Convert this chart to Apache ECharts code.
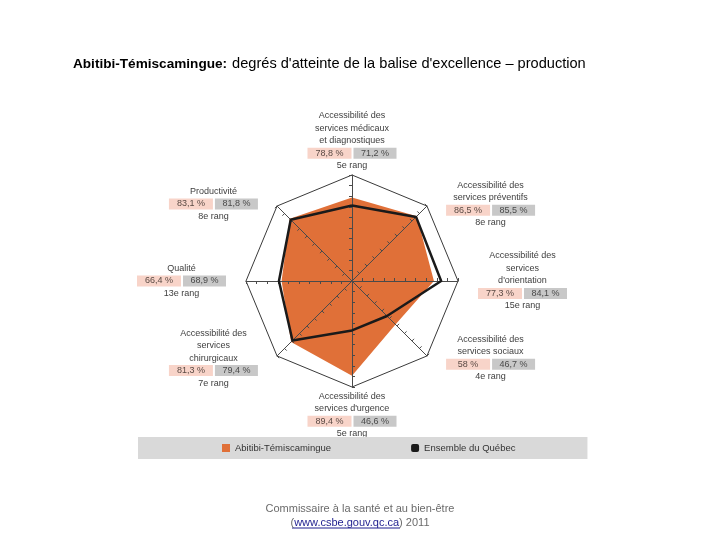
<!DOCTYPE html>
<html>
<head>
<meta charset="utf-8">
<script src="https://cdn.jsdelivr.net/npm/echarts@6/dist/echarts.min.js"></script>
<style>
html,body{margin:0;padding:0;background:#fff;}
#chart{width:720px;height:540px;}
</style>
</head>
<body>
<div id="chart"></div>
<script>
// Indicators, counter-clockwise from the top (ECharts radar order)
const categories = [
  "Accessibilité des\nservices médicaux\net diagnostiques",
  "Productivité",
  "Qualité",
  "Accessibilité des\nservices\nchirurgicaux",
  "Accessibilité des\nservices d'urgence",
  "Accessibilité des\nservices sociaux",
  "Accessibilité des\nservices\nd'orientation",
  "Accessibilité des\nservices préventifs"
];
const regionValues = [78.8, 83.1, 66.4, 81.3, 89.4, 58, 77.3, 86.5];
const quebecValues = [71.2, 81.8, 68.9, 79.4, 46.6, 46.7, 84.1, 85.5];
const ranks = ["5e rang", "8e rang", "13e rang", "7e rang", "5e rang", "4e rang", "15e rang", "8e rang"];
const seriesNames = ["Abitibi-Témiscamingue", "Ensemble du Québec"];

const FONT = "Liberation Sans";
function fmt(v) { return String(v).replace('.', ',') + ' %'; }

const indicators = categories.map(c => ({ name: c, min: 0, max: 100 }));

const chart = echarts.init(document.getElementById('chart'), null, { renderer: 'canvas' });
chart.setOption({
  backgroundColor: '#ffffff',
  animation: false,
  title: [{
    text: "{b|Abitibi-Témiscamingue:} {r|degrés d'atteinte de la balise d'excellence – production}",
    left: 73, top: 55, padding: 0,
    textStyle: {
      fontWeight: 'normal',
      rich: {
        b: { fontFamily: FONT, fontSize: 13.6, fontWeight: 'bold', color: '#000' },
        r: { fontFamily: FONT, fontSize: 14.6, fontWeight: 'normal', color: '#000' }
      }
    }
  }, {
    text: "{a|Commissaire à la santé et au bien-être}\n{a|(}{l|www.csbe.gouv.qc.ca}{a|) 2011}",
    left: 'center', top: 502, padding: 0,
    textStyle: {
      fontWeight: 'normal',
      rich: {
        a: { fontFamily: FONT, fontSize: 11, fontWeight: 'normal', color: '#6b6b6b', lineHeight: 14, align: 'center' },
        l: { fontFamily: FONT, fontSize: 11, fontWeight: 'normal', color: '#1f1f8f', lineHeight: 14, align: 'center' }
      }
    }
  }],
  legend: {
    left: 138, top: 437,
    padding: [6, 72, 6, 84],
    itemGap: 80,
    itemWidth: 8, itemHeight: 8,
    backgroundColor: '#d9d9d9',
    textStyle: { fontFamily: FONT, fontSize: 9.5, color: '#333' },
    data: [
      { name: seriesNames[0], icon: 'rect' },
      { name: seriesNames[1], icon: 'roundRect' }
    ]
  },
  radar: [{
    center: [352, 281],
    radius: 106,
    splitNumber: 10,
    shape: 'polygon',
    z: 3,
    indicator: indicators,
    nameGap: 3,
    axisName: {
      padding: [0, 17],
      formatter: function (name) {
        const i = categories.indexOf(name);
        const lines = name.split('\n').map(l => '{t|' + l + '}').join('\n');
        return lines + '\n{p|' + fmt(regionValues[i]) + '}{s|}{g|' + fmt(quebecValues[i]) + '}\n{t|' + ranks[i] + '}';
      },
      rich: {
        t: { fontFamily: FONT, fontSize: 9, color: '#404040', lineHeight: 12.5, align: 'center' },
        p: { fontFamily: FONT, fontSize: 9, color: '#5a4a44', lineHeight: 12.5, height: 11, width: 44, align: 'center', backgroundColor: '#f8d4c9' },
        s: { width: 2, lineHeight: 12.5, align: 'center' },
        g: { fontFamily: FONT, fontSize: 9, color: '#4a4a4a', lineHeight: 12.5, height: 11, width: 43, align: 'center', backgroundColor: '#c8c8c8' }
      }
    },
    axisLine: { show: true, lineStyle: { color: '#4a4a4a', width: 1 } },
    axisTick: { show: true, length: 3, lineStyle: { color: '#4a4a4a', width: 1 } },
    axisLabel: { show: false },
    splitLine: { show: false },
    splitArea: { show: false }
  }, {
    center: [352, 281],
    radius: 106,
    splitNumber: 1,
    shape: 'polygon',
    z: 3,
    indicator: indicators.map(d => ({ name: '', min: 0, max: 100 })),
    axisName: { show: false },
    axisLine: { show: false },
    axisTick: { show: false },
    axisLabel: { show: false },
    splitLine: { show: true, lineStyle: { color: '#3a3a3a', width: 1 } },
    splitArea: { show: false }
  }],
  series: [{
    type: 'radar',
    radarIndex: 0,
    z: 2,
    symbol: 'none',
    itemStyle: { color: '#e07038' },
    lineStyle: { width: 0, color: '#e07038' },
    areaStyle: { color: '#e07038', opacity: 1 },
    data: [{ name: seriesNames[0], value: regionValues }]
  }, {
    type: 'radar',
    radarIndex: 0,
    z: 4,
    symbol: 'none',
    itemStyle: { color: '#1a1a1a' },
    lineStyle: { width: 2.5, color: '#1a1a1a' },
    data: [{ name: seriesNames[1], value: quebecValues }]
  }],
  graphic: [{
    type: 'line',
    shape: { x1: 292, y1: 528, x2: 400, y2: 528 },
    style: { stroke: '#1f1f8f', lineWidth: 1 }
  }]
});
</script>
</body>
</html>
